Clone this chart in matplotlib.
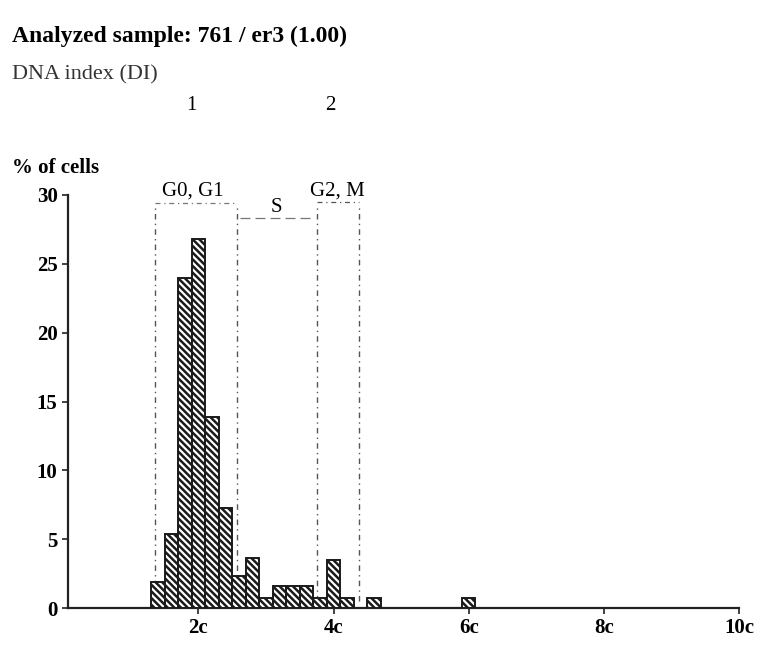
import numpy as np
import matplotlib.pyplot as plt

plt.rcParams['font.family'] = ['Liberation Serif', 'DejaVu Serif']
plt.rcParams['hatch.linewidth'] = 1.8

# bin centres (in c units) and % of cells
centers = [1.4, 1.6, 1.8, 2.0, 2.2, 2.4, 2.6, 2.8, 3.0, 3.2, 3.4, 3.6, 3.8, 4.0, 4.2, 4.6, 6.0]
pct = [1.9, 5.4, 24.0, 26.8, 13.9, 7.3, 2.3, 3.6, 0.7, 1.6, 1.6, 1.6, 0.7, 3.5, 0.7, 0.7, 0.7]
bin_w = 0.2

# phase gate boundaries (c units)
gates = [1.36, 2.57, 3.76, 4.37]
phase_labels = ['G0, G1', 'S', 'G2, M']

xtick_pos = [2, 4, 6, 8, 10]
xtick_lab = ['2c', '4c', '6c', '8c', '10c']
di_pos = [1.9, 3.95]
di_lab = ['1', '2']

fig = plt.figure(figsize=(7.61, 6.5), dpi=100)
ax = fig.add_axes([68 / 761, 42 / 650, 671 / 761, 413 / 650])

ax.bar(centers, pct, width=bin_w, color='white', edgecolor='#1a1a1a',
       linewidth=1.4, hatch='\\\\\\\\\\', zorder=3)

dash = (0, (4, 3, 1, 3))
for g in gates:
    ax.plot([g, g], [0.5, 29.3], color='#555555', lw=1.0, ls=dash, zorder=2, clip_on=False)
ax.plot([gates[0], gates[1]], [29.4, 29.4], color='#777777', lw=0.9, ls=dash, clip_on=False)
ax.plot([gates[1] + 0.05, gates[2] - 0.05], [28.3, 28.3], color='#777777', lw=0.9,
        ls=(0, (8, 4)), clip_on=False)
ax.plot([gates[2], gates[3]], [29.5, 29.5], color='#555555', lw=0.9, ls=dash, clip_on=False)

ax.text(1.92, 29.6, phase_labels[0], ha='center', va='bottom', fontsize=15)
ax.text(3.15, 28.4, phase_labels[1], ha='center', va='bottom', fontsize=15)
ax.text(4.06, 29.6, phase_labels[2], ha='center', va='bottom', fontsize=15)

ax.set_xlim(0.07, 10)
ax.set_ylim(0, 30)
for s in ['top', 'right']:
    ax.spines[s].set_visible(False)
for s in ['left', 'bottom']:
    ax.spines[s].set_linewidth(1.6)
    ax.spines[s].set_color('#222222')

ax.set_yticks([0, 5, 10, 15, 20, 25, 30])
ax.set_xticks(xtick_pos)
ax.set_xticklabels(xtick_lab)
ax.tick_params(axis='both', length=4, width=1.2, labelsize=15, color='#222222')
for lab in ax.get_xticklabels() + ax.get_yticklabels():
    lab.set_fontweight('bold')

fig.text(12 / 761, 1 - 168 / 650, '% of cells', fontsize=15, fontweight='bold',
         ha='left', va='center')
fig.text(12 / 761, 1 - 36 / 650, 'Analyzed sample: 761 / er3 (1.00)', fontsize=17,
         fontweight='bold', va='center', ha='left')
fig.text(12 / 761, 1 - 75 / 650, 'DNA index (DI)', fontsize=16, va='center', ha='left',
         color='#333333')
for p, l in zip(di_pos, di_lab):
    ax.text(p, 36.5, l, ha='center', va='center', fontsize=15, clip_on=False)

fig.savefig('out.png', dpi=100)
